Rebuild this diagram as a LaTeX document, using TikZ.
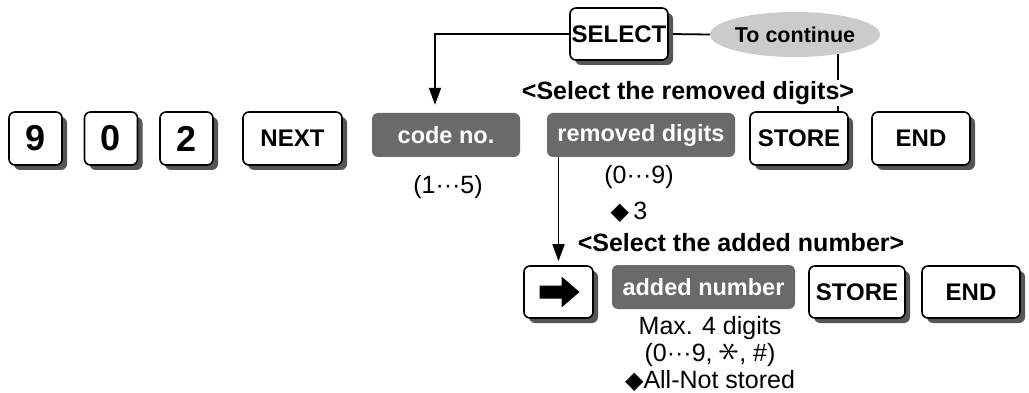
\documentclass[tikz,border=0pt]{standalone}
\usepackage{fontspec}
\setmainfont{Liberation Sans}
\newfontfamily\dejavu{DejaVu Sans}
\usepackage{graphicx}
\usetikzlibrary{arrows.meta,shapes.geometric,shadows,backgrounds}
\definecolor{shade}{HTML}{555555}
\definecolor{boxgray}{HTML}{6A6A6A}
\definecolor{ellgray}{HTML}{CBCBCB}
\tikzset{
  keybox/.style={draw=black, line width=1.6pt, rounded corners=6pt, fill=white,
    inner sep=0pt, minimum height=53pt,
    drop shadow={shadow xshift=5pt, shadow yshift=-5pt, fill=shade, opacity=1},
    font=\bfseries\fontsize{24}{27}\selectfont},
  digitkey/.style={keybox, minimum width=53pt, font=\bfseries\fontsize{36}{40}\selectfont},
  graybox/.style={fill=boxgray, rounded corners=6pt, inner sep=0pt, minimum height=44pt,
    text=white, font=\bfseries\fontsize{23.5}{26}\selectfont},
  headtxt/.style={inner sep=1pt, font=\bfseries\fontsize{25}{28}\selectfont},
  plaintxt/.style={inner sep=0pt, font=\fontsize{25}{27}\selectfont},
  conn/.style={line width=1.8pt, draw=black},
  arr/.style={conn, -{Triangle[length=17pt,width=12pt]}}
}
\newcommand{\dia}{{\dejavu\fontsize{24}{24}\selectfont ◆}}
\newcommand{\thinstar}{\raisebox{-1pt}{\rotatebox{90}{\scalebox{1.7}{$\ast$}}}}
\begin{document}
\begin{tikzpicture}[x=1pt,y=-1pt]
\useasboundingbox (0,0) rectangle (1029,393);

% keys, first row
\node[digitkey] (k9) at (35.5,138.5) {9};
\node[digitkey] (k0) at (111,138.5) {0};
\node[digitkey] (k2) at (186.5,138.5) {2};
\node[keybox, minimum width=99pt] (next) at (292.5,138.5) {NEXT};
\node[graybox, minimum width=148pt] (code) at (446,135) {code no.};
\node[graybox, minimum width=188pt] (removed) at (641,135) {removed digits};
\node[keybox, minimum width=98pt] (store1) at (799,138.5) {STORE};
\node[keybox, minimum width=98pt] (end1) at (921,138.5) {END};

% top row
\node[keybox, minimum width=98pt, minimum height=52pt] (select) at (619,34) {SELECT};
\node[ellipse, fill=ellgray, minimum width=144pt, minimum height=45pt, inner sep=0pt,
      font=\bfseries\fontsize{21.5}{24}\selectfont] (cont) at (795,34.5) {To continue};

% second row
\node[keybox, minimum width=69pt, minimum height=52pt] (arrowkey) at (558.5,292) {};
\fill[shift={(arrowkey.center)}] (-19,-6.5) -- (3,-6.5) -- (3,-15.5) -- (21,0)
   -- (3,15.5) -- (3,6.5) -- (-19,6.5) -- cycle;
\node[graybox, minimum width=183pt] (added) at (703.5,287) {added number};
\node[keybox, minimum width=96pt, minimum height=52pt] (store2) at (857,292) {STORE};
\node[keybox, minimum width=98pt, minimum height=52pt] (end2) at (971,292) {END};

% connectors
\begin{scope}[on background layer]
\draw[arr] (select.west) -| ([xshift=-11pt,yshift=8pt]code.north);
\draw[conn] (select.east) -- (cont.west);
\draw[conn] ([xshift=39pt]store1.north) -- ([xshift=39pt]store1.north |- cont.center);
\draw[arr] (arrowkey.north |- removed.south) -- ([yshift=4pt]arrowkey.north);
\end{scope}

% texts
\node[headtxt, fill=white] (h1) at (688,93) {\textless Select the removed digits\textgreater};
\node[plaintxt] (t15) at (448,187) {(1···5)};
\node[plaintxt] (t09) at (639,177) {(0···9)};
\node[plaintxt] (d3) at (629,212) {\dia\,3};
\node[headtxt] (h2) at (741,243) {\textless Select the added number\textgreater};
\node[plaintxt, align=center] (maxd) at (710,354)
  {Max. 4 digits\\(0···9, \thinstar, \#)\\\dia All-Not stored};
\end{tikzpicture}
\end{document}
